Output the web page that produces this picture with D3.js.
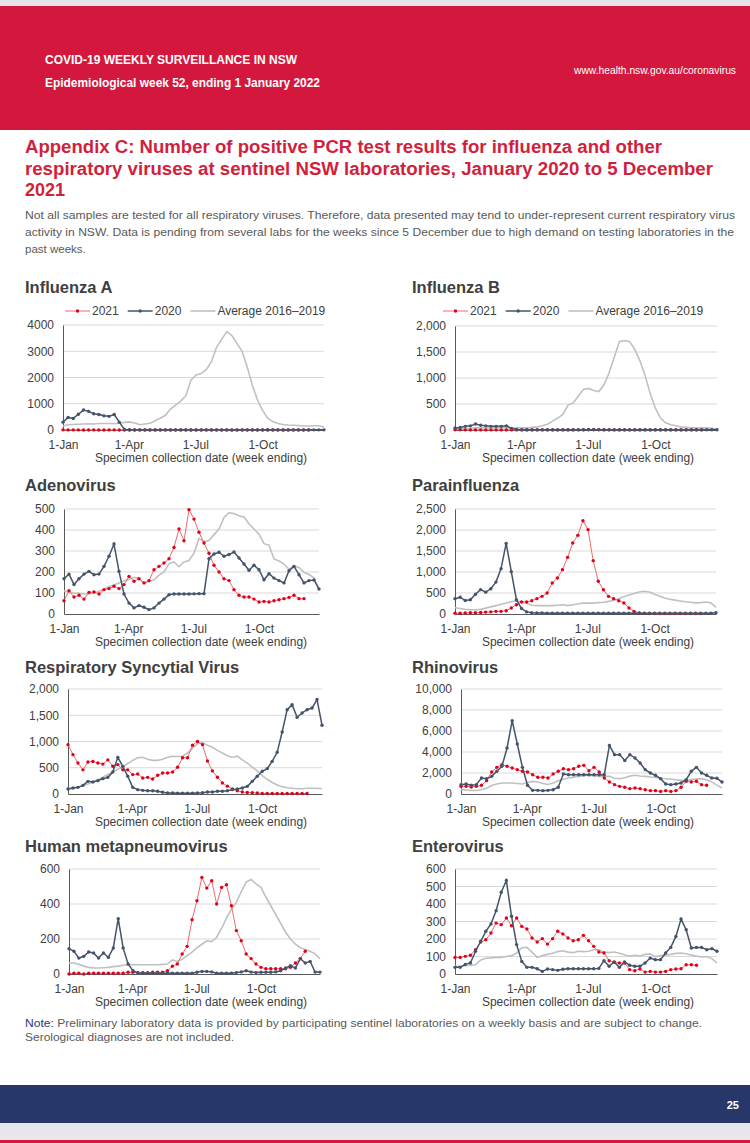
<!DOCTYPE html>
<html>
<head>
<meta charset="utf-8">
<script src="https://cdn.jsdelivr.net/npm/d3@7"></script>
<style>
body { margin: 0; background: #fff; }
svg { display: block; font-family: "Liberation Sans", Arial, sans-serif; }
.ptitle { font-size: 16.5px; font-weight: bold; fill: #404040; }
.axis path.domain { stroke: #595959; stroke-width: 1; }
.axis text { font-size: 12px; fill: #404040; font-family: "Liberation Sans", Arial, sans-serif; }
.atitle { font-size: 12px; fill: #404040; }
.grid { stroke: #d9d9d9; stroke-width: 1; }
.leg { font-size: 12px; fill: #404040; }
</style>
</head>
<body>
<svg id="page" width="750" height="1143"></svg>
<script>
// ---- data (weekly counts, week 1 .. 52) ----
const quarterTicks = ["1-Jan", "1-Apr", "1-Jul", "1-Oct"];
const legendLabels = ["2021", "2020", "Average 2016\u20132019"];
const axisTitle = "Specimen collection date (week ending)";

const fluATicks = [0, 1000, 2000, 3000, 4000];
const fluA2021 = [5,4,3,3,2,2,3,2,2,3,3,2,2,2,1,1,1,1,1,1,2,1,1,1,1,1,1,1,1,1,1,1,1,1,1,1,1,1,1,1,1,1,1,1,2,2,2,2,2];
const fluA2020 = [300,480,440,600,760,710,620,590,540,520,590,300,20,8,5,5,6,5,4,5,5,5,6,5,5,4,5,5,6,5,5,5,5,4,5,5,6,5,5,5,8,5,5,4,5,5,5,6,5,5,5,5];
const fluAAvg = [150,200,210,220,230,240,230,250,250,250,240,260,290,310,270,200,230,260,350,450,560,800,950,1100,1300,1900,2100,2150,2300,2600,3150,3450,3750,3600,3300,3000,2400,1700,1150,750,450,320,250,210,190,180,170,150,150,160,160,110];

const fluBTicks = [0, 500, 1000, 1500, 2000];
const fluB2021 = [3,3,3,2,2,2,2,2,2,2,2,2,2,2,2,2,2,2,2,2,2,2,2,2,3,5,10,10,8,5,3,2,2,2,2,2,2,2,2,2,2,2,2,2,2,2,2,2,2];
const fluB2020 = [40,50,70,80,115,90,80,70,70,70,80,30,10,5,5,5,4,5,5,5,5,5,5,5,5,5,5,5,5,5,5,5,5,5,5,5,5,5,5,5,5,5,5,5,5,5,5,5,5,5,5,5];
const fluBAvg = [20,25,30,35,40,40,40,40,40,40,40,40,40,40,40,50,60,80,110,170,230,300,480,520,650,780,800,760,740,870,1100,1400,1700,1720,1700,1550,1330,1050,700,420,230,140,100,80,60,50,40,40,40,40,35,20];

const adenoTicks = [0, 100, 200, 300, 400, 500];
const adeno2021 = [63,111,81,89,71,103,105,95,116,121,132,121,140,179,156,168,148,159,211,227,243,263,317,405,349,497,452,389,338,289,232,200,168,159,116,89,81,81,71,57,60,57,63,68,73,79,89,73,73];
const adeno2020 = [168,190,140,168,190,203,187,190,227,275,333,203,95,52,29,40,32,21,29,52,71,92,95,95,95,95,96,97,97,263,286,294,275,283,295,267,238,208,232,211,163,192,171,159,148,206,227,187,148,159,162,119];
const adenoAvg = [110,105,100,98,95,96,100,108,118,130,138,148,158,165,175,170,145,155,163,185,200,240,248,225,248,255,290,360,345,350,378,405,460,482,478,468,462,430,405,380,335,327,262,252,238,212,228,222,198,188,172,116];

const paraTicks = [0, 500, 1000, 1500, 2000, 2500];
const para2021 = [20,20,25,30,30,35,45,50,63,63,79,143,222,286,286,317,365,420,500,738,857,1056,1349,1690,1873,2222,2008,1270,778,579,420,365,317,262,143,63,24,15,12,10,10,10,10,10,10,10,10,10,10];
const para2020 = [365,400,320,340,470,580,520,600,760,1080,1680,1010,340,130,50,30,25,25,20,20,20,20,20,20,20,20,20,20,20,20,20,20,20,20,20,20,20,20,20,20,20,20,20,20,20,20,20,20,20,20,20,30];
const paraAvg = [150,130,110,100,100,110,140,170,200,230,260,290,310,290,260,210,200,200,200,200,210,220,200,220,240,260,260,260,270,280,300,320,370,410,450,490,525,540,525,470,420,380,350,330,310,290,280,265,270,285,265,160];

const rsvTicks = [0, 500, 1000, 1500, 2000];
const rsv2021 = [940,750,590,460,610,620,590,570,650,530,560,460,460,370,380,305,317,286,356,400,400,420,510,690,690,930,1000,940,630,440,320,210,150,95,63,38,30,25,20,12,10,10,10,10,10,10,10,10,10];
const rsv2020 = [95,114,127,165,241,229,254,292,317,419,698,527,337,127,83,70,63,63,51,32,20,18,15,15,15,15,20,25,38,38,51,51,63,83,95,114,146,241,337,432,483,622,794,1181,1606,1702,1460,1543,1606,1638,1800,1310];
const rsvAvg = [100,110,130,160,190,230,270,320,370,420,470,520,580,640,690,700,660,640,640,660,700,720,715,720,780,870,960,980,930,890,830,780,730,700,720,650,590,510,440,350,280,220,170,140,120,110,100,100,110,110,110,100];

const rhinoTicks = [0, 2000, 4000, 6000, 8000, 10000];
const rhino2021 = [730,730,670,730,830,1270,2100,2540,2790,2640,2480,2320,2160,2100,1840,1590,1590,1520,1900,2160,2410,2320,2410,2640,2730,2220,2540,2100,1520,1140,890,730,640,510,570,510,410,320,320,250,320,250,320,640,1210,1140,1210,890,830];
const rhino2020 = [890,950,830,890,1520,1460,1680,2160,2640,4380,6980,4760,2540,830,350,350,320,350,410,640,1900,1840,1840,1840,1840,1840,1840,1840,1840,4630,3750,3750,3180,3750,3430,2950,2320,2000,1780,1460,950,890,950,1050,1370,2160,2540,2000,1780,1520,1500,1140];
const rhinoAvg = [420,380,330,330,400,550,800,950,1050,1050,1050,1000,950,1100,1200,1150,1000,900,1050,1250,1400,1520,1600,1680,1750,1780,1720,1680,1680,1680,1500,1460,1550,1700,1780,1720,1680,1620,1580,1500,1450,1400,1350,1300,1300,1370,1420,1460,1350,1150,850,570];

const hmpvTicks = [0, 200, 400, 600];
const hmpv2021 = [0,5,5,0,5,5,5,5,5,5,5,5,10,10,8,8,8,10,10,10,19,44,57,114,158,310,419,552,491,533,400,495,510,390,248,190,114,88,57,38,30,30,30,30,30,38,63,88,130];
const hmpv2020 = [145,130,91,101,126,120,91,120,95,149,316,149,57,19,6,5,5,5,5,5,5,5,5,5,5,5,10,15,15,12,5,5,5,5,8,12,19,11,8,10,10,10,12,19,34,48,34,88,63,72,11,11];
const hmpvAvg = [63,63,55,45,38,35,34,36,38,42,45,50,53,53,53,53,53,53,53,55,57,80,72,85,105,125,150,170,190,185,210,260,320,370,410,470,525,540,515,495,440,390,340,290,240,200,170,150,140,130,115,88];

const enteroTicks = [0, 100, 200, 300, 400, 500, 600];
const entero2021 = [95,95,101,107,139,183,196,234,291,282,320,276,320,272,257,206,183,202,171,202,244,229,206,190,196,221,190,158,126,120,76,67,63,63,25,19,29,11,15,11,11,15,25,29,30,53,53,50];
const entero2020 = [38,38,55,63,130,187,244,286,362,467,535,330,168,72,38,38,30,15,29,25,21,27,30,30,30,30,30,30,32,76,44,69,38,69,50,44,44,63,91,82,82,120,152,215,314,253,149,152,152,139,145,130];
const enteroAvg = [44,45,48,50,53,80,90,92,95,95,100,105,120,150,152,125,95,105,112,118,128,133,125,122,130,128,130,139,139,125,122,126,118,110,102,107,103,112,115,98,105,108,112,118,120,116,108,102,97,100,88,63];

// ---- panels and their boxes on the page ----
const panels = [
    { title: "Influenza A", s2021: fluA2021, s2020: fluA2020, avg: fluAAvg, ticks: fluATicks, comma: false, legend: true },
    { title: "Influenza B", s2021: fluB2021, s2020: fluB2020, avg: fluBAvg, ticks: fluBTicks, comma: true, legend: true },
    { title: "Adenovirus", s2021: adeno2021, s2020: adeno2020, avg: adenoAvg, ticks: adenoTicks, comma: true },
    { title: "Parainfluenza", s2021: para2021, s2020: para2020, avg: paraAvg, ticks: paraTicks, comma: true },
    { title: "Respiratory Syncytial Virus", s2021: rsv2021, s2020: rsv2020, avg: rsvAvg, ticks: rsvTicks, comma: true },
    { title: "Rhinovirus", s2021: rhino2021, s2020: rhino2020, avg: rhinoAvg, ticks: rhinoTicks, comma: true },
    { title: "Human metapneumovirus", s2021: hmpv2021, s2020: hmpv2020, avg: hmpvAvg, ticks: hmpvTicks, comma: true },
    { title: "Enterovirus", s2021: entero2021, s2020: entero2020, avg: enteroAvg, ticks: enteroTicks, comma: true }
];

const boxes = [
    { x0: 63,  x1: 324, top: 325, zero: 430, titleX: 25,  titleY: 293, axisTitleX: 201, legendX: 65 },
    { x0: 455, x1: 717, top: 326, zero: 430, titleX: 412, titleY: 293, axisTitleX: 588, legendX: 443 },
    { x0: 64,  x1: 319, top: 509, zero: 614, titleX: 25,  titleY: 491, axisTitleX: 201 },
    { x0: 455, x1: 716, top: 509, zero: 614, titleX: 412, titleY: 491, axisTitleX: 588 },
    { x0: 68,  x1: 322, top: 689, zero: 794, titleX: 25,  titleY: 673, axisTitleX: 201 },
    { x0: 461, x1: 722, top: 689, zero: 794, titleX: 412, titleY: 673, axisTitleX: 588 },
    { x0: 69,  x1: 320, top: 869, zero: 974, titleX: 25,  titleY: 852, axisTitleX: 201 },
    { x0: 455, x1: 717, top: 869, zero: 974, titleX: 412, titleY: 852, axisTitleX: 588 }
];

const col2021Line = "#f06a6a";
const col2021Dot = "#e0001b";
const col2020 = "#44546a";
const colAvg = "#c0c0c0";
const red = "#d4173d";

const svg = d3.select("#page");

// week-ending positions, one per week, on a common calendar
const start = new Date(2021, 0, 1);
const weekDates = d3.range(52).map(i => d3.timeDay.offset(start, i * 7));
const parseTick = d3.timeParse("%d-%b-%Y");
const tickDates = quarterTicks.map(s => parseTick(s + "-2021"));

// ---- page header ----
svg.append("rect").attr("x", 0).attr("y", 0).attr("width", 750).attr("height", 1143).attr("fill", "#fff");
svg.append("rect").attr("x", 0).attr("y", 0).attr("width", 750).attr("height", 6).attr("fill", "#e4e4ea");
svg.append("rect").attr("x", 0).attr("y", 6).attr("width", 750).attr("height", 124).attr("fill", red);

svg.append("text").attr("x", 45).attr("y", 64).attr("fill", "#fff").attr("font-size", 12).attr("font-weight", "bold")
    .attr("textLength", 252).attr("lengthAdjust", "spacingAndGlyphs")
    .text("COVID-19 WEEKLY SURVEILLANCE IN NSW");
svg.append("text").attr("x", 45).attr("y", 87).attr("fill", "#fff").attr("font-size", 12).attr("font-weight", "bold")
    .attr("textLength", 275).attr("lengthAdjust", "spacingAndGlyphs")
    .text("Epidemiological week 52, ending 1 January 2022");
svg.append("text").attr("x", 574).attr("y", 74).attr("fill", "#fff").attr("font-size", 10.5)
    .attr("textLength", 162).attr("lengthAdjust", "spacingAndGlyphs")
    .text("www.health.nsw.gov.au/coronavirus");

const titleLines = [
    ["Appendix C: Number of positive PCR test results for influenza and other", 637],
    ["respiratory viruses at sentinel NSW laboratories, January 2020 to 5 December", 688],
    ["2021", null]
];
titleLines.forEach((t, i) => {
    const el = svg.append("text").attr("x", 25).attr("y", 153 + i * 21.5).attr("fill", "#d21f3c")
        .attr("font-size", 18).attr("font-weight", "bold").text(t[0]);
    if (t[1]) el.attr("textLength", t[1]).attr("lengthAdjust", "spacingAndGlyphs");
});

const introLines = [
    ["Not all samples are tested for all respiratory viruses. Therefore, data presented may tend to under-represent current respiratory virus", 710],
    ["activity in NSW. Data is pending from several labs for the weeks since 5 December due to high demand on testing laboratories in the", 709],
    ["past weeks.", null]
];
introLines.forEach((t, i) => {
    const el = svg.append("text").attr("x", 25).attr("y", 219 + i * 17).attr("fill", "#595959")
        .attr("font-size", 11.5).text(t[0]);
    if (t[1]) el.attr("textLength", t[1]).attr("lengthAdjust", "spacingAndGlyphs");
});

// ---- one small multiple ----
function drawPanel(p, b) {
    const g = svg.append("g");
    const x = d3.scaleTime()
        .domain([weekDates[0], weekDates[weekDates.length - 1]])
        .range([b.x0, b.x1]);
    const y = d3.scaleLinear()
        .domain([0, d3.max(p.ticks)])
        .range([b.zero, b.top]);

    g.append("text").attr("class", "ptitle").attr("x", b.titleX).attr("y", b.titleY).text(p.title);

    // gridlines
    g.selectAll(".grid")
        .data(p.ticks.filter(t => t > 0))
        .enter()
        .append("line")
        .attr("class", "grid")
        .attr("x1", b.x0).attr("x2", b.x1)
        .attr("y1", d => y(d)).attr("y2", d => y(d));

    // axes
    const fmt = p.comma ? d3.format(",") : d3.format("d");
    g.append("g").attr("class", "axis")
        .attr("transform", `translate(${b.x0},0)`)
        .call(d3.axisLeft(y).tickValues(p.ticks).tickFormat(fmt).tickSize(0).tickPadding(9));
    g.append("g").attr("class", "axis")
        .attr("transform", `translate(0,${b.zero})`)
        .call(d3.axisBottom(x).tickValues(tickDates).tickFormat((d, i) => quarterTicks[i]).tickSize(0).tickPadding(10));

    g.append("text").attr("class", "atitle")
        .attr("x", b.axisTitleX).attr("y", b.zero + 32)
        .attr("text-anchor", "middle")
        .text(axisTitle);

    const line = d3.line()
        .x((d, i) => x(weekDates[i]))
        .y(d => y(d));

    // average 2016-2019
    g.append("path").datum(p.avg)
        .attr("d", line).attr("fill", "none")
        .attr("stroke", colAvg).attr("stroke-width", 1.6);

    // 2021
    g.append("path").datum(p.s2021)
        .attr("d", line).attr("fill", "none")
        .attr("stroke", col2021Line).attr("stroke-width", 1);
    g.selectAll(".d21")
        .data(p.s2021)
        .enter()
        .append("circle")
        .attr("class", "d21")
        .attr("cx", (d, i) => x(weekDates[i]))
        .attr("cy", d => y(d))
        .attr("r", 1.7)
        .attr("fill", col2021Dot);

    // 2020
    g.append("path").datum(p.s2020)
        .attr("d", line).attr("fill", "none")
        .attr("stroke", col2020).attr("stroke-width", 1.5);
    g.selectAll(".d20")
        .data(p.s2020)
        .enter()
        .append("circle")
        .attr("class", "d20")
        .attr("cx", (d, i) => x(weekDates[i]))
        .attr("cy", d => y(d))
        .attr("r", 1.7)
        .attr("fill", col2020);

    if (p.legend) drawLegend(b.legendX, 311);
}

function drawLegend(startX, cy) {
    const styles = [
        { stroke: col2021Line, dot: col2021Dot, w: 1 },
        { stroke: col2020, dot: col2020, w: 1.5 },
        { stroke: colAvg, dot: null, w: 1.6 }
    ];
    let cx = startX;
    legendLabels.forEach((label, i) => {
        const s = styles[i];
        svg.append("line").attr("x1", cx).attr("x2", cx + 25).attr("y1", cy).attr("y2", cy)
            .attr("stroke", s.stroke).attr("stroke-width", s.w);
        if (s.dot) {
            svg.append("circle").attr("cx", cx + 12.5).attr("cy", cy).attr("r", 1.7).attr("fill", s.dot);
        }
        const t = svg.append("text").attr("class", "leg").attr("x", cx + 27).attr("y", cy + 4).text(label);
        cx += 27 + t.node().getComputedTextLength() + 9;
    });
}

panels.forEach((p, i) => drawPanel(p, boxes[i]));

// ---- footer ----
const note = svg.append("text").attr("x", 25).attr("y", 1027).attr("font-size", 11.5).attr("fill", "#595959")
    .attr("textLength", 677).attr("lengthAdjust", "spacingAndGlyphs");
note.append("tspan").attr("fill", "#2b3a7a").text("Note:");
note.append("tspan").text(" Preliminary laboratory data is provided by participating sentinel laboratories on a weekly basis and are subject to change.");
svg.append("text").attr("x", 25).attr("y", 1041).attr("font-size", 11.5).attr("fill", "#595959")
    .attr("textLength", 209).attr("lengthAdjust", "spacingAndGlyphs")
    .text("Serological diagnoses are not included.");

svg.append("rect").attr("x", 0).attr("y", 1085).attr("width", 750).attr("height", 38).attr("fill", "#283769");
svg.append("text").attr("x", 739).attr("y", 1109).attr("text-anchor", "end").attr("fill", "#fff")
    .attr("font-size", 11).attr("font-weight", "bold").text("25");
svg.append("rect").attr("x", 0).attr("y", 1123).attr("width", 750).attr("height", 17).attr("fill", "#e6e6ec");
svg.append("rect").attr("x", 0).attr("y", 1140).attr("width", 750).attr("height", 3).attr("fill", red);
</script>
</body>
</html>
